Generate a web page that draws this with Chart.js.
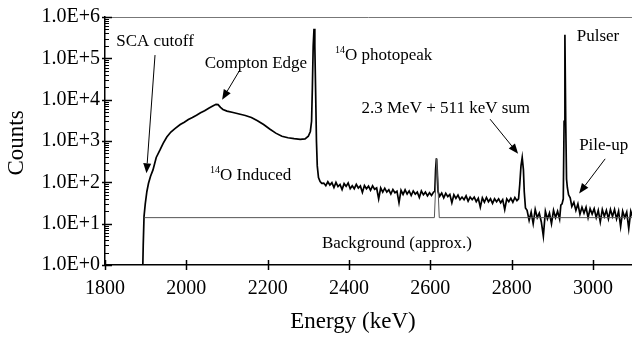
<!DOCTYPE html>
<html>
<head>
<meta charset="utf-8">
<script src="https://cdn.jsdelivr.net/npm/chart.js@4/dist/chart.umd.min.js"></script>
<style>
  html, body { margin: 0; padding: 0; background: #fff; }
  canvas { display: block; }
</style>
</head>
<body>
<canvas id="spectrum" width="632" height="338"></canvas>
<script>
const energyKeV = [
  1893, 1894, 1896, 1899, 1903, 1907, 1912, 1918, 1926, 1935,
  1943, 1952, 1962, 1972, 1985, 1995, 2005, 2015, 2025, 2035,
  2045, 2055, 2065, 2073, 2078, 2084, 2090, 2100, 2115, 2130,
  2145, 2160, 2175, 2190, 2205, 2220, 2235, 2250, 2265, 2280,
  2292, 2300, 2305, 2308, 2310, 2312, 2314, 2316, 2318, 2320,
  2322, 2325, 2329, 2333, 2338, 2343, 2348, 2353, 2358, 2363,
  2368, 2373, 2378, 2383, 2388, 2393, 2398, 2403, 2408, 2413,
  2418, 2423, 2428, 2433, 2438, 2443, 2448, 2453, 2458, 2463,
  2468, 2473, 2478, 2483, 2488, 2493, 2498, 2503, 2508, 2513,
  2518, 2523, 2528, 2533, 2538, 2543, 2548, 2553, 2558, 2563,
  2568, 2573, 2578, 2583, 2588, 2593, 2598, 2603, 2608, 2611,
  2613, 2615, 2617, 2619, 2623, 2628, 2633, 2638, 2643, 2648,
  2653, 2658, 2663, 2668, 2673, 2678, 2683, 2688, 2693, 2698,
  2703, 2708, 2713, 2718, 2723, 2728, 2733, 2738, 2743, 2748,
  2753, 2758, 2763, 2768, 2773, 2778, 2783, 2788, 2793, 2798,
  2803, 2808, 2813, 2817, 2820, 2823, 2826, 2829, 2831, 2834,
  2838, 2843, 2848, 2853, 2858, 2863, 2868, 2873, 2878, 2883,
  2888, 2893, 2898, 2903, 2908, 2913, 2918, 2921, 2924, 2927,
  2929, 2931, 2933, 2935, 2937, 2940, 2944, 2948, 2953, 2958,
  2963, 2968, 2973, 2978, 2983, 2988, 2993, 2998, 3003, 3008,
  3013, 3018, 3023, 3028, 3033, 3038, 3043, 3048, 3053, 3058,
  3063, 3068, 3073, 3078, 3083, 3088, 3093, 3098
]
const counts = [
  1, 3, 15, 30, 60, 95, 140, 200, 400, 600,
  880, 1250, 1650, 2000, 2500, 2850, 3300, 3700, 4200, 4800,
  5400, 6200, 7000, 7700, 7600, 6500, 5800, 5300, 4900, 4500,
  4150, 3700, 3100, 2500, 1950, 1550, 1300, 1200, 1140, 1100,
  1130, 1300, 1700, 3000, 20000, 200000, 520000, 200000, 15000, 1000,
  250, 130, 105, 95, 96, 83, 103, 86, 98, 75,
  100, 79, 89, 67, 93, 80, 96, 70, 83, 70,
  89, 73, 82, 57, 84, 70, 81, 64, 82, 68,
  73, 40, 73, 58, 72, 58, 66, 52, 67, 56,
  61, 32, 64, 51, 66, 52, 62, 48, 62, 52,
  58, 43, 62, 50, 58, 47, 56, 48, 58, 60,
  200, 380, 200, 60, 46, 55, 42, 54, 45, 51,
  32, 50, 41, 49, 38, 44, 38, 47, 35, 44,
  38, 44, 34, 41, 25, 42, 33, 43, 34, 40,
  31, 40, 34, 40, 32, 38, 22, 40, 34, 41,
  33, 43, 36, 40, 90, 250, 400, 200, 60, 24,
  21, 12, 19, 10, 22, 14, 18, 11, 5, 20,
  13, 18, 10, 21, 14, 20, 13, 28, 30, 40,
  3000, 370000, 3000, 120, 75, 50, 42, 26, 33, 21,
  30, 17, 25, 18, 25, 14, 23, 17, 23, 14,
  21, 11, 22, 15, 21, 13, 22, 15, 22, 13,
  20, 8.5, 20, 14, 19, 7.6, 20, 14
]

// approximate room background
const bgEnergyKeV = [1897, 2610, 2616, 2622, 3100]
const bgCounts = [14, 14, 365, 14, 14]

const xTickValues = [1800, 2000, 2200, 2400, 2600, 2800, 3000]
const yTickValues = [1, 10, 100, 1000, 10000, 100000, 1000000]

// labels in data units: [text, energy, counts]
const labels = [
  ['SCA cutoff', 1923, 250000],
  ['Compton Edge', 2171, 74000],
  ['2.3 MeV + 511 keV sum', 2638, 6200],
  ['Background (approx.)', 2518, 3.4]
]
const leftLabels = [
  ['Pulser', 2960, 330000],
  ['Pile-up', 2966, 760]
]
const supLabels = [
  ['14', 'O photopeak', 2390, 120000],
  ['14', 'O Induced', 2083, 145]
]
// arrows: [fromE, fromC, toE, toC]
const arrows = [
  [1923, 120000, 1902, 165],
  [2132, 53000, 2088, 10000],
  [2747, 3370, 2816, 490],
  [3030, 370, 2966, 54]
]

const serif = '"Liberation Serif", "Times New Roman", serif'

const decorations = {
    id: 'decorations',
    afterDraw(chart) {
        const { ctx, chartArea: a, scales: { x, y } } = chart
        ctx.save()

        // frame top
        ctx.strokeStyle = '#777'
        ctx.lineWidth = 1
        ctx.beginPath()
        ctx.moveTo(a.left, a.top + 0.5)
        ctx.lineTo(a.right, a.top + 0.5)
        ctx.stroke()

        // y ticks, major cross the axis, minor on the inside
        ctx.strokeStyle = '#000'
        ctx.lineWidth = 1.5
        yTickValues.forEach(v => {
            const py = Math.round(y.getPixelForValue(v)) + 0.5
            ctx.beginPath()
            ctx.moveTo(a.left - 3, py)
            ctx.lineTo(a.left + 7, py)
            ctx.stroke()
        })
        ctx.lineWidth = 1
        for (let d = 1; d < 1000000; d *= 10) {
            for (let m = 2; m < 10; m++) {
                const py = Math.round(y.getPixelForValue(d * m)) + 0.5
                ctx.beginPath()
                ctx.moveTo(a.left, py)
                ctx.lineTo(a.left + 4, py)
                ctx.stroke()
            }
        }
        ctx.lineWidth = 1.5
        xTickValues.forEach(v => {
            const px = Math.round(x.getPixelForValue(v)) + 0.5
            ctx.beginPath()
            ctx.moveTo(px, a.bottom - 5)
            ctx.lineTo(px, a.bottom + 5)
            ctx.stroke()
        })

        // arrows
        ctx.fillStyle = '#000'
        ctx.lineWidth = 1
        arrows.forEach(([e0, c0, e1, c1]) => {
            const x0 = x.getPixelForValue(e0), y0 = y.getPixelForValue(c0)
            const x1 = x.getPixelForValue(e1), y1 = y.getPixelForValue(c1)
            const ang = Math.atan2(y1 - y0, x1 - x0)
            const len = 10, half = 4
            const bx = x1 - len * Math.cos(ang), by = y1 - len * Math.sin(ang)
            ctx.beginPath()
            ctx.moveTo(x0, y0)
            ctx.lineTo(bx, by)
            ctx.stroke()
            ctx.beginPath()
            ctx.moveTo(x1, y1)
            ctx.lineTo(bx + half * Math.sin(ang), by - half * Math.cos(ang))
            ctx.lineTo(bx - half * Math.sin(ang), by + half * Math.cos(ang))
            ctx.closePath()
            ctx.fill()
        })

        // annotation text
        ctx.textBaseline = 'middle'
        ctx.font = '17px ' + serif
        ctx.textAlign = 'center'
        labels.forEach(([t, e, c]) => ctx.fillText(t, x.getPixelForValue(e), y.getPixelForValue(c)))
        ctx.textAlign = 'left'
        leftLabels.forEach(([t, e, c]) => ctx.fillText(t, x.getPixelForValue(e), y.getPixelForValue(c)))
        supLabels.forEach(([s, t, e, c]) => {
            const px = x.getPixelForValue(e), py = y.getPixelForValue(c)
            ctx.font = '17px ' + serif
            ctx.fillText(t, px, py)
            ctx.font = '10px ' + serif
            ctx.textAlign = 'right'
            ctx.fillText(s, px, py - 5)
            ctx.textAlign = 'left'
        })

        // axis titles
        ctx.font = '23px ' + serif
        ctx.textAlign = 'center'
        ctx.fillText('Energy (keV)', 353, 322)
        ctx.translate(17, 143)
        ctx.rotate(-Math.PI / 2)
        ctx.fillText('Counts', 0, 0)

        ctx.restore()
    }
}

new Chart(document.getElementById('spectrum'), {
    type: 'line',
    data: {
        datasets: [{
            label: 'Background',
            data: bgEnergyKeV.map((e, i) => ({ x: e, y: bgCounts[i] })),
            borderColor: '#555',
            borderWidth: 1,
            pointRadius: 0,
            tension: 0
        }, {
            label: 'Spectrum',
            data: energyKeV.map((e, i) => ({ x: e, y: counts[i] })),
            borderColor: '#000',
            borderWidth: 1.7,
            pointRadius: 0,
            tension: 0
        }]
    },
    options: {
        responsive: false,
        animation: false,
        layout: { padding: { top: 15, left: 0, right: 0, bottom: 0 } },
        plugins: {
            legend: { display: false },
            tooltip: { enabled: false }
        },
        scales: {
            x: {
                type: 'linear',
                min: 1800,
                max: 3096,
                afterFit: s => { s.height = 73 },
                afterBuildTicks: s => { s.ticks = xTickValues.map(v => ({ value: v })) },
                grid: { display: false, drawTicks: false },
                border: { display: true, color: '#000', width: 1.5 },
                ticks: {
                    padding: 12,
                    maxRotation: 0,
                    autoSkip: false,
                    color: '#000',
                    font: { family: serif, size: 20 },
                    callback: v => String(v)
                }
            },
            y: {
                type: 'logarithmic',
                min: 1,
                max: 1000000,
                afterFit: s => { s.width = 105 },
                afterBuildTicks: s => { s.ticks = yTickValues.map(v => ({ value: v })) },
                grid: { display: false, drawTicks: false },
                border: { display: true, color: '#000', width: 1.5 },
                ticks: {
                    padding: 5,
                    autoSkip: false,
                    color: '#000',
                    font: { family: serif, size: 20 },
                    callback: v => '1.0E+' + Math.round(Math.log10(v))
                }
            }
        }
    },
    plugins: [decorations]
})
</script>
</body>
</html>
